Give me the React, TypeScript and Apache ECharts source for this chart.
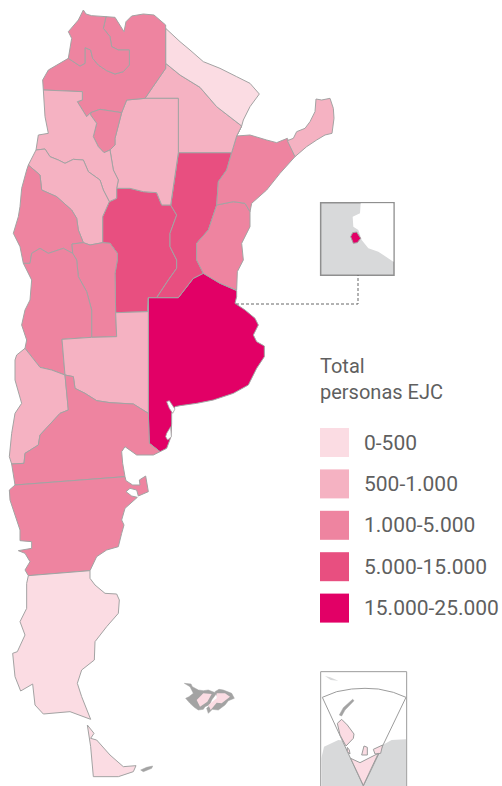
import React, { useEffect, useRef } from "react";
import * as echarts from "echarts";

// Data
const provinceNames = ["Buenos Aires","Córdoba","Santa Fe","Entre Ríos","Corrientes","Misiones","Chaco","Formosa","Santiago del Estero","Salta","Jujuy","Tucumán","Catamarca","La Rioja","San Juan","San Luis","Mendoza","La Pampa","Neuquén","Río Negro","Chubut","Santa Cruz","Tierra del Fuego"];
const provinceValues = [20000,10000,10000,2500,2500,800,800,300,800,2500,2500,2500,800,800,2500,2500,2500,800,800,2500,2500,300,300];
const rangeLabels = ["0-500","500-1.000","1.000-5.000","5.000-15.000","15.000-25.000"];
const rangeMins = [0,500,1000,5000,15000];
const rangeMaxs = [500,1000,5000,15000,25000];
const rangeColors = ["#fbdce3","#f5b2c2","#ee84a0","#e84f80","#e20066"];
const titleText = "Total\npersonas EJC";

// Outline geometry, in 3x picture units (zoomed crops), converted to lon/lat-like map coords.
type P = [number, number];
const off = (d: number, a: P[]): P[] => a.map(([x, y]) => [x, y + d] as P);
const B = (a: P[]) => off(780, a);
const C = (a: P[]) => off(1560, a);
const rev = (a: P[]) => [...a].reverse();

const jujuySalta: P[] = [[318,50],[310,85],[330,110],[335,140],[355,150],[388,150],[388,195],[370,215],[345,222],[320,212],[295,195],[278,175],[272,150],[255,143],[255,190],[240,198],[205,175]];
const saltaTucuman: P[] = [[272,338],[300,328],[365,338]];
const tucSantiago: P[] = [[365,338],[345,415],[345,435],[330,450]];
const tucCatamarca: P[] = [[272,338],[272,345],[290,370],[280,410],[295,440],[312,458],[330,450]];
const catSantiago: P[] = [[330,450],[335,480],[340,510],[355,540],[350,565]];
const catCordoba: P[] = [[350,565],[350,595],[328,605]];
const catRioja: P[] = [[328,605],[310,570],[300,540],[265,515],[250,480],[220,478],[195,490],[175,480],[150,470],[135,447],[108,450]];
const saltaCat: P[] = [[272,338],[260,350],[232,305],[247,300],[247,275],[130,270]];
const santiagoCordoba: P[] = [[350,565],[390,565],[430,575],[470,578],[485,615],[512,615]];
const santiagoSantaFe: P[] = [[512,615],[535,458]];
const saltaSantiago: P[] = [[365,338],[380,300],[435,295]];
const chacoSantiago: P[] = [[435,295],[535,295],[535,458]];
const chacoSantaFe: P[] = [[535,458],[695,458]];
const saltaChaco: P[] = [[435,295],[497,205],[497,190]];
const chacoFormosa: P[] = [[497,190],[540,225],[600,262],[650,320],[725,378]];
const chacoCorrientes: P[] = [[725,378],[710,408],[695,458]];
const sfCorrientes: P[] = [[695,458],[680,510],[655,545],[650,615]];
const sfEntre: P[] = [[650,615],[625,690],[590,730],[590,780],[610,820]];
const corrEntre: P[] = [[650,615],[700,605],[735,610],[750,635]];
const cordobaSf: P[] = [[512,615],[530,645],[510,700],[510,740],[530,780],[530,805],[505,840],[470,893]];
const sfBa: P[] = [[610,820],[580,835],[535,893],[470,893]];
const cordobaBa: P[] = [[470,893],[445,893]];
const cordobaLp: P[] = [[445,893],[443,935],[347,938]];
const cordobaSl: P[] = [[347,938],[345,820],[352,780],[352,760]];
const cordobaRioja: P[] = [[352,760],[330,730],[308,728]];
const riojaCordobaN: P[] = [[308,728],[308,650],[328,605]];
const riojaSl: P[] = [[308,728],[270,735],[250,728]];
const sjSl: P[] = [[250,728],[216,732],[218,760]];
const riojaSj: P[] = [[250,728],[235,690],[230,655],[215,630],[170,590],[125,570],[120,525],[85,495]];
const sjMza: P[] = [[218,760],[190,745],[145,760],[120,745],[95,760],[90,790],[70,790]];
const slMza: P[] = [[218,760],[230,780],[235,830],[260,875],[275,930],[275,1012]];
const slLp: P[] = [[275,1012],[350,1010],[347,938]];
const mzaLp: P[] = [[275,1012],[186,1018],[195,1125]];
const lpRn: P[] = [[195,1125],[220,1130],[225,1165],[255,1180],[290,1202],[330,1208],[400,1212],[445,1240]];
const mzaNq: P[] = [[75,1045],[120,1102],[155,1110],[195,1125]];
const nqRn: P[] = [[195,1125],[205,1230],[180,1240],[120,1305],[115,1335],[75,1360],[72,1390],[35,1392]];
const baLp: P[] = [[445,893],[445,1240]];
const baRn: P[] = [[445,1240],[448,1330],[480,1355]];
const rnChubut: P[] = [[45,1455],[375,1430]];
const chubutSc: P[] = [[85,1727],[270,1712]];

const rings: Record<string, P[]> = {
  "Jujuy": [[250,30],[258,42],[275,47],...jujuySalta,[215,115],[205,95],[235,60]],
  "Salta": [[318,50],[345,52],[372,95],[378,65],[395,48],[430,42],[462,45],[497,75],[497,190],...rev(saltaChaco),...rev(saltaSantiago),...rev(saltaTucuman),...saltaCat,[128,240],[145,210],...rev(jujuySalta)],
  "Tucumán": [...saltaTucuman,...tucSantiago,...rev(tucCatamarca)],
  "Catamarca": [...rev(saltaCat),...tucCatamarca,...catSantiago,...catCordoba,...catRioja,[115,405],[145,400],[135,350]],
  "Santiago del Estero": [...saltaSantiago,...chacoSantiago,...rev(santiagoSantaFe),...rev(santiagoCordoba),...rev(catSantiago),...rev(tucSantiago)],
  "Chaco": [...saltaChaco,...chacoFormosa,...chacoCorrientes,...rev(chacoSantaFe),...rev(chacoSantiago)],
  "Formosa": [[497,85],[540,125],[570,150],[610,185],[660,205],[710,230],[750,250],[778,282],[750,320],[730,360],[725,378],...rev(chacoFormosa)],
  "Misiones": [[948,297],[965,300],[990,295],[1000,325],[1002,355],[996,400],[975,405],[950,420],[920,440],[885,470],[862,422],[880,415],[890,395],[915,385],[930,365],[945,335]],
  "Corrientes": [[725,378],[710,408],[750,405],[800,420],[830,428],[862,415],[885,470],[840,520],[800,570],[755,610],[750,635],...rev(corrEntre),...rev(sfCorrientes),[710,408]],
  "Entre Ríos": [...corrEntre,[750,680],[725,730],[730,780],[712,815],[710,870],[660,850],...rev(sfEntre)],
  "Santa Fe": [...chacoSantaFe,...sfCorrientes,...sfEntre,...sfBa,...rev(cordobaSf),...rev(santiagoSantaFe)],
  "Córdoba": [...santiagoCordoba,...cordobaSf,...cordobaBa,...cordobaLp,...cordobaSl,...cordobaRioja,...riojaCordobaN,...rev(catCordoba)],
  "La Rioja": [...catRioja,[85,495],...rev(riojaSj),...rev(riojaSl),...riojaCordobaN],
  "San Juan": [...rev(riojaSj),...sjSl,...sjMza,[60,740],[40,700],[55,650],[60,620],[65,565],[80,510]],
  "San Luis": [...riojaSl,...sjSl,...slMza,...slLp,...cordobaSl,...cordobaRioja],
  "Mendoza": [...sjMza,[95,840],[90,900],[75,930],[65,975],[80,1020],[75,1045],...mzaNq,...rev(mzaLp),...rev(slMza)],
  "La Pampa": [...rev(cordobaLp),...baLp,...rev(lpRn),...rev(mzaLp).slice(1),...slLp.slice(1)],
  "Neuquén": [[50,1065],[75,1045],...mzaNq,...nqRn,[28,1370],[35,1300],[45,1240],[65,1210],[45,1140],[45,1080]],
  "Río Negro": [...rev(nqRn),...lpRn,...baRn,[460,1365],[410,1365],[375,1340],[365,1355],[368,1390],[375,1430],[45,1455]],
  "Chubut": [...rnChubut,[378,1442],[398,1455],[420,1455],[418,1440],[437,1428],[445,1475],[415,1488],[410,1470],[390,1465],[378,1475],[395,1488],[412,1492],[375,1525],[365,1560],[372,1575],[365,1600],[355,1640],[320,1650],[290,1670],[270,1712],...rev(chubutSc),[75,1710],[90,1685],[75,1660],[55,1652],[95,1645],[95,1625],[60,1622],[60,1590],[50,1560],[30,1500],[28,1470]],
  "Santa Cruz": [...chubutSc,...C([[270,175],[285,195],[315,220],[350,222],[358,240],[355,280],[320,320],[285,365],[283,420],[245,450],[232,490],[245,530],[272,598],[210,575],[130,582],[105,555],[98,492],[62,513],[45,470],[38,400],[52,395],[75,345],[60,305],[80,265],[80,190]])],
  "Tierra del Fuego": C([[262,615],[282,640],[272,655],[290,660],[330,705],[370,740],[408,737],[400,755],[355,770],[280,770],[272,680]]),
  "Buenos Aires": [...rev(cordobaBa),...rev(sfBa),...B([[660,70],[710,92],[710,110],[705,130],[735,150],[765,175],[775,195],[760,225],[770,245],[793,258],[793,290],[770,325],[745,375],[700,400],[640,420],[590,430],[540,437],[525,440],[515,460],[515,490],[513,530],[500,565],[480,575]]),[448,1330],...rev(baLp)],
};

const toMap = (a: P[]) => {
  const ring = a.map(([x, y]) => [x / 3, -y / 3]);
  ring.push(ring[0]);
  return ring;
};
const feature = (name: string, polys: P[][]) => ({
  type: "Feature",
  properties: { name },
  geometry: { type: "MultiPolygon", coordinates: polys.map((p) => [toMap(p)]) },
});

const fk = (a: P[]) => a.map(([x, y]) => [525 + x, 2010 + y] as P);
const ant = (a: P[]) => a.map(([x, y]) => [930 + x, 1980 + y] as P);
const bai = (a: P[]) => a.map(([x, y]) => [930 + x, 570 + y] as P);

const insetShapes: { name: string; polys: P[][]; fill: string; stroke: string; width: number }[] = [
  { name: "Recuadro AMBA", polys: [bai([[32,38],[252,38],[252,256],[32,256]])], fill: "#d8d9da", stroke: "#8f8f8f", width: 1.5 },
  { name: "Rio de la Plata", polys: [bai([[152,40],[150,70],[128,80],[130,110],[145,120],[155,150],[175,175],[205,185],[250,215],[250,40]])], fill: "#ffffff", stroke: "#ffffff", width: 0 },
  { name: "CABA", polys: [bai([[122,140],[128,128],[140,126],[152,145],[142,158],[130,160]])], fill: "#e20066", stroke: "#a3a3a3", width: 1 },
  { name: "Recuadro Antartida", polys: [ant([[32,35],[290,35],[290,400],[32,400]])], fill: "#ffffff", stroke: "#9c9c9c", width: 1 },
  { name: "Continente", polys: [ant([[34,295],[42,260],[85,240],[130,245],[218,255],[245,240],[288,238],[288,380],[34,380]])], fill: "#d8d9da", stroke: "#d8d9da", width: 0 },
  { name: "Hielo norte", polys: [ant([[45,48],[60,52],[85,62],[62,60]])], fill: "#d8d9da", stroke: "#d8d9da", width: 0 },
  { name: "Sector", polys: [ant([[37,112],[80,95],[125,87],[165,85],[205,87],[250,97],[288,112],[160,378]])], fill: "#ffffff", stroke: "#9c9c9c", width: 1 },
  { name: "Antartida", polys: [
    ant([[122,295],[150,308],[205,280],[160,376]]),
    ant([[82,190],[95,178],[112,195],[132,222],[130,235],[108,258],[90,225]]),
    ant([[155,285],[162,258],[172,262],[172,285]]),
    ant([[190,268],[218,255],[212,280],[195,282]]),
    ant([[112,262],[118,270],[120,282],[112,275]]),
  ], fill: "#fbdce3", stroke: "#9c9c9c", width: 1 },
  { name: "Antartida islas", polys: [ant([[88,165],[100,143],[128,118],[132,122],[105,150],[95,168]])], fill: "#a3a3a3", stroke: "#a3a3a3", width: 0.5 },
  { name: "Islas Malvinas", polys: [
    fk([[28,40],[48,42],[52,50],[70,60],[85,62],[100,60],[125,70],[110,90],[104,104],[90,110],[85,118],[70,120],[58,112],[45,100],[32,85],[42,80],[55,70],[45,50]]),
    fk([[120,65],[132,58],[145,60],[170,70],[178,85],[160,92],[150,105],[130,120],[112,118],[100,130],[95,115],[118,95],[130,85]]),
  ], fill: "#a3a3a3", stroke: "#a3a3a3", width: 0.5 },
  { name: "Malvinas interior", polys: [
    fk([[65,90],[85,70],[110,72],[97,95],[75,110]]),
    fk([[125,70],[150,70],[165,80],[140,100],[125,98],[107,120],[100,105],[125,85]]),
  ], fill: "#fbdce3", stroke: "#fbdce3", width: 0 },
  { name: "Isla de los Estados", polys: [C([[422,750],[440,742],[458,738],[455,745],[430,755]])], fill: "#a3a3a3", stroke: "#a3a3a3", width: 0.5 },
  { name: "Costa bonaerense", polys: [B([[500,425],[508,422],[520,440],[525,447],[518,460],[508,445]]), B([[500,520],[512,500],[514,530],[503,540],[497,530]])], fill: "#ffffff", stroke: "#a3a3a3", width: 0.8 },
];

const provincesGeo = { type: "FeatureCollection", features: provinceNames.map((n) => feature(n, [rings[n]])) };
const insetsGeo = { type: "FeatureCollection", features: insetShapes.map((s) => feature(s.name, s.polys)) };

const bounding = [[0, 0], [502, -786]];

export default function App() {
  const ref = useRef<HTMLDivElement>(null);
  useEffect(() => {
    document.body.style.margin = "0";
    echarts.registerMap("argentina", provincesGeo as any);
    echarts.registerMap("insets", insetsGeo as any);
    const chart = echarts.init(ref.current!, undefined, { renderer: "svg" });
    chart.setOption({
      animation: false,
      backgroundColor: "#ffffff",
      title: {
        text: titleText,
        left: 320,
        top: 353,
        padding: 0,
        textStyle: { fontFamily: "Roboto", fontSize: 20, fontWeight: "normal", color: "#5f5f5f", lineHeight: 26 },
      },
      visualMap: {
        type: "piecewise",
        seriesIndex: 0,
        left: 320,
        top: 428,
        padding: 0,
        orient: "vertical",
        align: "left",
        itemWidth: 29,
        itemHeight: 29,
        itemGap: 12.4,
        itemSymbol: "rect",
        textGap: 15,
        hoverLink: false,
        selectedMode: false,
        inverse: true,
        textStyle: { fontFamily: "Roboto", fontSize: 21, color: "#5f5f5f" },
        pieces: rangeLabels.map((label, i) => ({ label, min: rangeMins[i], max: rangeMaxs[i], color: rangeColors[i] })),
      },
      geo: {
        map: "insets",
        roam: false,
        silent: true,
        z: 5,
        aspectScale: 1,
        boundingCoords: bounding,
        left: 0,
        top: 0,
        width: 502,
        height: 786,
        label: { show: false },
        itemStyle: { areaColor: "#ffffff", borderColor: "#a3a3a3", borderWidth: 1 },
        emphasis: { disabled: true },
        regions: insetShapes.map((s) => ({
          name: s.name,
          itemStyle: { areaColor: s.fill, borderColor: s.stroke, borderWidth: s.width },
        })),
      },
      series: [
        {
          type: "map",
          map: "argentina",
          roam: false,
          silent: true,
          aspectScale: 1,
          boundingCoords: bounding,
          left: 0,
          top: 0,
          width: 502,
          height: 786,
          label: { show: false },
          itemStyle: { borderColor: "#a3a3a3", borderWidth: 1 },
          emphasis: { disabled: true },
          data: provinceNames.map((name, i) => ({ name, value: provinceValues[i] })),
        },
      ],
      graphic: [
        {
          type: "polyline",
          z: 10,
          silent: true,
          shape: { points: [[236, 304], [358, 304], [358, 275]] },
          style: { stroke: "#666666", lineWidth: 1, lineDash: [3, 2], fill: "none" },
        },
      ],
    });
    return () => chart.dispose();
  }, []);
  return <div ref={ref} style={{ width: 502, height: 786 }} />;
}
